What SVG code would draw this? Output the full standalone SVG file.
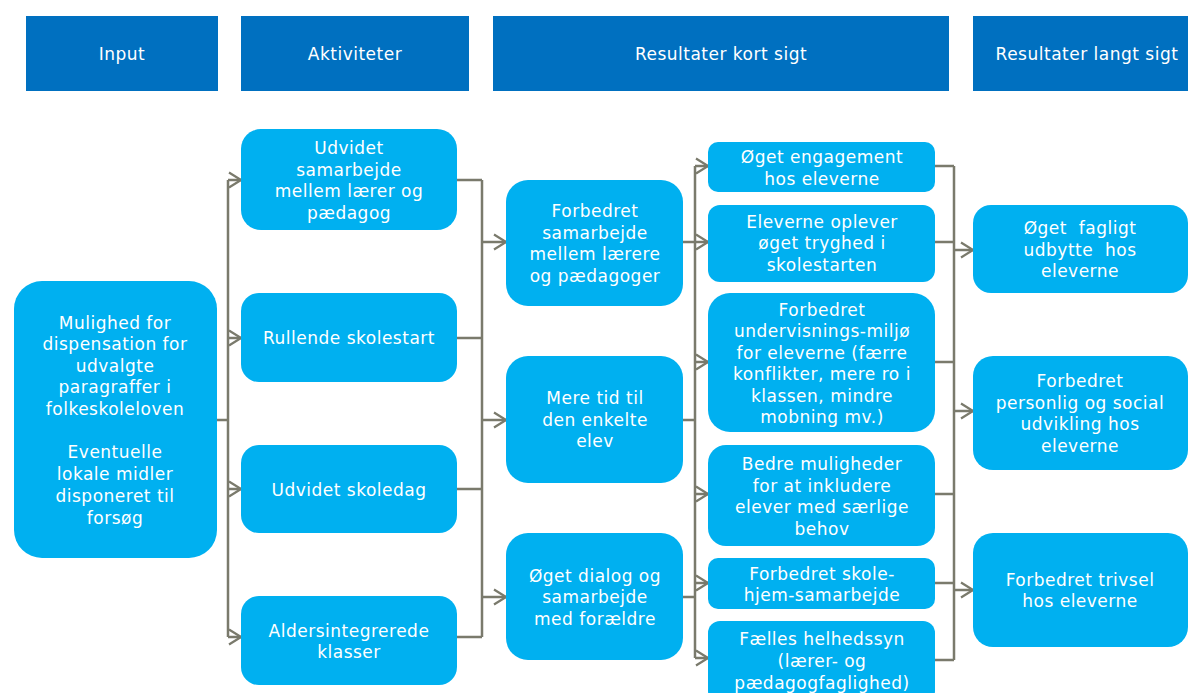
<svg xmlns="http://www.w3.org/2000/svg" width="1188" height="693" viewBox="0 0 1188 693">
<defs>
<marker id="arr" markerUnits="userSpaceOnUse" markerWidth="14" markerHeight="18" refX="13" refY="9" orient="auto">
<path d="M1,1.5 L13,9 L1,16.5" fill="none" stroke="#7a7a6c" stroke-width="2.2"/>
</marker>
<style>
.hdr{fill:#0070C0}
.nd{fill:#00B0F0}
.t{font-family:"DejaVu Sans",Verdana,sans-serif;font-size:17px;letter-spacing:0.5px;fill:#ffffff;text-anchor:middle}
.h{font-family:"DejaVu Sans",Verdana,sans-serif;font-size:17px;letter-spacing:0.5px;fill:#ffffff;text-anchor:middle}
.ln{fill:none;stroke:#7a7a6c;stroke-width:2.5}
.ar{fill:none;stroke:#7a7a6c;stroke-width:2.5;marker-end:url(#arr)}
</style>
</defs>
<rect width="1188" height="693" fill="#ffffff"/>

<g id="headers">
<g id="h-input"><rect class="hdr" x="26" y="16" width="192" height="75"/><text class="h" x="122" y="60">Input</text></g>
<g id="h-akt"><rect class="hdr" x="241" y="16" width="228" height="75"/><text class="h" x="355" y="60">Aktiviteter</text></g>
<g id="h-kort"><rect class="hdr" x="493" y="16" width="456" height="75"/><text class="h" x="721" y="60">Resultater kort sigt</text></g>
<g id="h-lang"><rect class="hdr" x="973" y="16" width="215" height="75"/><text class="h" x="1087" y="60">Resultater langt sigt</text></g>
</g>

<g id="connectors">
<path class="ln" d="M217,420 H228 M228,180 V637"/>
<path class="ar" d="M228,180 H241"/>
<path class="ar" d="M228,338 H241"/>
<path class="ar" d="M228,489 H241"/>
<path class="ar" d="M228,637 H241"/>
<path class="ln" d="M457,180 H482 M457,338 H482 M457,489 H482 M457,637 H482 M482,180 V637"/>
<path class="ar" d="M482,242 H506"/>
<path class="ar" d="M482,420 H506"/>
<path class="ar" d="M482,597 H506"/>
<path class="ln" d="M683,242 H695 M683,420 H695 M683,597 H695 M695,166 V658"/>
<path class="ar" d="M695,166 H708"/>
<path class="ar" d="M695,242 H708"/>
<path class="ar" d="M695,362 H708"/>
<path class="ar" d="M695,494 H708"/>
<path class="ar" d="M695,583 H708"/>
<path class="ar" d="M695,658 H708"/>
<path class="ln" d="M935,166 H954 M935,242 H954 M935,362 H954 M935,494 H954 M935,583 H954 M935,660 H954 M954,166 V660"/>
<path class="ar" d="M954,250 H973"/>
<path class="ar" d="M954,411 H973"/>
<path class="ar" d="M954,590 H973"/>
</g>

<g id="n-input"><rect class="nd" x="14" y="281" width="203" height="277" rx="28"/>
<text class="t" x="115" y="329">Mulighed for</text>
<text class="t" x="115" y="350">dispensation for</text>
<text class="t" x="115" y="372">udvalgte</text>
<text class="t" x="115" y="393">paragraffer i</text>
<text class="t" x="115" y="415">folkeskoleloven</text>
<text class="t" x="115" y="458">Eventuelle</text>
<text class="t" x="115" y="480">lokale midler</text>
<text class="t" x="115" y="502">disponeret til</text>
<text class="t" x="115" y="524">forsøg</text>
</g>

<g id="n-a1"><rect class="nd" x="241" y="129" width="216" height="101" rx="20"/>
<text class="t" x="349" y="154">Udvidet</text>
<text class="t" x="349" y="176">samarbejde</text>
<text class="t" x="349" y="197">mellem lærer og</text>
<text class="t" x="349" y="219">pædagog</text>
</g>
<g id="n-a2"><rect class="nd" x="241" y="293" width="216" height="89" rx="18"/>
<text class="t" x="349" y="344">Rullende skolestart</text>
</g>
<g id="n-a3"><rect class="nd" x="241" y="445" width="216" height="88" rx="18"/>
<text class="t" x="349" y="496">Udvidet skoledag</text>
</g>
<g id="n-a4"><rect class="nd" x="241" y="596" width="216" height="89" rx="18"/>
<text class="t" x="349" y="637">Aldersintegrerede</text>
<text class="t" x="349" y="658">klasser</text>
</g>

<g id="n-m1"><rect class="nd" x="506" y="180" width="177" height="126" rx="22"/>
<text class="t" x="595" y="217">Forbedret</text>
<text class="t" x="595" y="239">samarbejde</text>
<text class="t" x="595" y="260">mellem lærere</text>
<text class="t" x="595" y="282">og pædagoger</text>
</g>
<g id="n-m2"><rect class="nd" x="506" y="356" width="177" height="127" rx="22"/>
<text class="t" x="595" y="404">Mere tid til</text>
<text class="t" x="595" y="426">den enkelte</text>
<text class="t" x="595" y="447">elev</text>
</g>
<g id="n-m3"><rect class="nd" x="506" y="533" width="177" height="127" rx="22"/>
<text class="t" x="595" y="582">Øget dialog og</text>
<text class="t" x="595" y="603">samarbejde</text>
<text class="t" x="595" y="625">med forældre</text>
</g>

<g id="n-r1"><rect class="nd" x="708" y="142" width="227" height="50" rx="10"/>
<text class="t" x="822" y="163">Øget engagement</text>
<text class="t" x="822" y="185">hos eleverne</text>
</g>
<g id="n-r2"><rect class="nd" x="708" y="205" width="227" height="77" rx="12"/>
<text class="t" x="822" y="228">Eleverne oplever</text>
<text class="t" x="822" y="249">øget tryghed i</text>
<text class="t" x="822" y="271">skolestarten</text>
</g>
<g id="n-r3"><rect class="nd" x="708" y="293" width="227" height="139" rx="22"/>
<text class="t" x="822" y="316">Forbedret</text>
<text class="t" x="822" y="337">undervisnings-miljø</text>
<text class="t" x="822" y="359">for eleverne (færre</text>
<text class="t" x="822" y="380">konflikter, mere ro i</text>
<text class="t" x="822" y="402">klassen, mindre</text>
<text class="t" x="822" y="423">mobning mv.)</text>
</g>
<g id="n-r4"><rect class="nd" x="708" y="445" width="227" height="101" rx="18"/>
<text class="t" x="822" y="470">Bedre muligheder</text>
<text class="t" x="822" y="492">for at inkludere</text>
<text class="t" x="822" y="513">elever med særlige</text>
<text class="t" x="822" y="535">behov</text>
</g>
<g id="n-r5"><rect class="nd" x="708" y="558" width="227" height="51" rx="10"/>
<text class="t" x="822" y="580">Forbedret skole-</text>
<text class="t" x="822" y="601">hjem-samarbejde</text>
</g>
<g id="n-r6"><rect class="nd" x="708" y="621" width="227" height="82" rx="12"/>
<text class="t" x="822" y="645">Fælles helhedssyn</text>
<text class="t" x="822" y="667">(lærer- og</text>
<text class="t" x="822" y="689">pædagogfaglighed)</text>
</g>

<g id="n-l1"><rect class="nd" x="973" y="205" width="215" height="88" rx="18"/>
<text class="t" x="1080" y="234" xml:space="preserve">Øget  fagligt</text>
<text class="t" x="1080" y="256" xml:space="preserve">udbytte  hos</text>
<text class="t" x="1080" y="277">eleverne</text>
</g>
<g id="n-l2"><rect class="nd" x="973" y="356" width="215" height="114" rx="20"/>
<text class="t" x="1080" y="387">Forbedret</text>
<text class="t" x="1080" y="409">personlig og social</text>
<text class="t" x="1080" y="430">udvikling hos</text>
<text class="t" x="1080" y="452">eleverne</text>
</g>
<g id="n-l3"><rect class="nd" x="973" y="533" width="215" height="114" rx="20"/>
<text class="t" x="1080" y="586">Forbedret trivsel</text>
<text class="t" x="1080" y="607">hos eleverne</text>
</g>
</svg>
